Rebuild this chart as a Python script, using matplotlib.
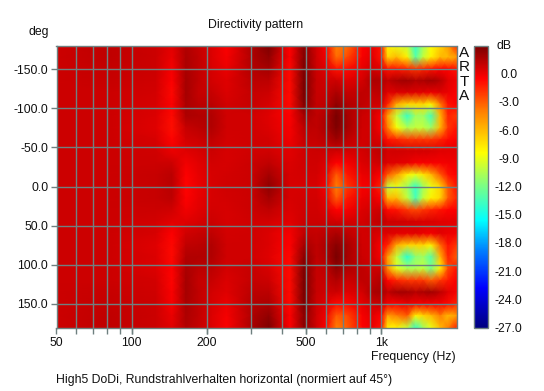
import numpy as np
import matplotlib
matplotlib.use('Agg')
import matplotlib.pyplot as plt
from matplotlib.colors import LinearSegmentedColormap

plt.rcParams['font.family'] = ['Liberation Sans', 'DejaVu Sans']

W = 544.0
H = 391.0
GRID = '#6f8080'

angles = list(range(-180, 181, 15))
x_ticks = [50, 100, 200, 500, 1000]
x_labels = ['50', '100', '200', '500', '1k']
x_grid = [60, 70, 80, 90, 100, 200, 300, 400, 500, 600, 700, 800, 900, 1000]
y_ticks = [-150, -100, -50, 0, 50, 100, 150]
y_labels = ['-150.0', '-100.0', '-50.0', '0.0', '50.0', '100.0', '150.0']
cb_ticks = [0, -3, -6, -9, -12, -15, -18, -21, -24, -27]
cb_labels = ['0.0', '-3.0', '-6.0', '-9.0', '-12.0', '-15.0', '-18.0', '-21.0', '-24.0', '-27.0']

# one list per frequency, angle -180 ... 180 in 15 deg steps
freqs = [50, 80, 125, 145, 165, 185, 210, 240, 300, 355, 430, 490, 550, 600, 660, 730, 840, 920,
         1000, 1060, 1150, 1270, 1370, 1470, 1580, 1720, 1850, 2000]
c50 = [.8, .8, .8, .8, .8, .8, .8, .8, .8, .8, .8, .8, .8, .8, .8, .8, .8, .8, .8, .8, .8, .8, .8, .8, .8]
c80 = [1.1, 1.1, 1, .9, .8, .8, .8, .8, .8, .8, .8, .8, .8, .8, .8, .8, .8, .8, .8, .8, .8, .9, 1, 1.1, 1.1]
c125 = [.8, .8, .8, .7, .6, .5, .4, .3, .5, .7, .8, .9, .9, .9, .8, .6, .5, .3, .4, .4, .6, .7, .8, .8, .8]
c145 = [.2, 0, -.3, -.5, -.7, -.5, -.8, -.9, -.6, 0, .8, 1.3, 1.3, 1.2, .7, .2, -.5, -.7, -.8, -.5, -.6, -.4, -.3, 0, .2]
c165 = [1.5, 1.6, 1.7, 1.8, 1.8, 1.7, 1.6, .9, .6, .3, -.2, -.5, -.6, -.5, -.2, .3, .7, 1.1, 1.5, 1.7, 1.8, 1.8, 1.7, 1.6, 1.5]
c185 = [1, 1.1, 1.1, 1.1, 1, 1.2, 1.5, 1.2, .8, .5, .2, .1, 0, .1, .2, .5, .9, 1.2, 1.5, 1.2, 1, 1.1, 1.1, 1.1, 1]
c210 = [.4, .4, .5, .6, .9, 1.2, 1.5, 1.5, 1.1, .8, .6, .5, .5, .5, .6, .8, 1.1, 1.5, 1.5, 1.2, .9, .6, .5, .4, .4]
c240 = [-.4, -.3, 0, .3, .4, .6, .7, .7, .6, .5, .5, .6, .7, .6, .5, .5, .6, .7, .7, .6, .4, .3, 0, -.3, -.4]
c300 = [1.5, 1.5, 1.4, 1.2, 1, .9, .7, .7, .7, .7, .8, .8, .8, .8, .8, .7, .7, .7, .7, .9, 1, 1.2, 1.4, 1.5, 1.6]
c355 = [2.8, 2.3, 1.8, 1.2, .8, .5, .3, .4, .6, .7, 1.1, 1.8, 2.4, 1.8, 1.1, .6, .4, .4, .3, .5, .8, 1.2, 1.6, 2.3, 2.8]
c430 = [-.5, -.5, -.7, -.8, -.8, -.8, -.5, -.3, -.2, .2, .4, .5, .5, .5, .4, .2, -.3, -.5, -.7, -.8, -.8, -.8, -.7, -.5, -.5]
c490 = [2.5, 2.7, 2.8, 2.9, 2.9, 2.7, 1.8, 1.2, .9, .7, .7, .6, .5, .6, .7, .8, 1.1, 1.8, 2.5, 2.8, 2.9, 2.9, 2.8, 2.5, 2.5]
c550 = [.7, .7, .8, .9, .9, 1, 1.1, 1.1, 1, .8, .7, .6, .5, .6, .7, .8, 1, 1.1, 1.1, 1, .9, .9, .8, .7, .7]
c600 = [-.5, -.2, .3, .7, .9, 1.1, 1.5, 1.6, 1.2, .8, .4, .1, -.3, .1, .4, .8, 1.2, 1.6, 1.5, 1.1, .9, .7, .3, -.2, -.5]
c660 = [-4, -3.5, -1, .8, 1.6, 2.3, 2.9, 2.8, 2, .7, -.5, -3, -4, -3, -.5, .7, 1.6, 2.5, 2.9, 2.3, 1.5, .8, -.8, -3, -4]
c730 = [-3.5, -2.5, -.8, .3, 1, 1.5, 1.8, 1.8, 1.2, .6, -.3, -1.2, -2, -1.2, -.3, .6, 1.2, 1.8, 1.8, 1.5, .8, .3, -.7, -2.5, -3]
c840 = [-.5, -.3, .1, .6, 1.1, 1.1, .8, .7, .6, .6, .4, 0, -.3, 0, .4, .6, .6, .7, .8, 1.1, 1.1, .6, .1, -.3, -.5]
c920 = [0, .2, .7, 1.6, 1.1, .8, .6, .6, .7, .9, .6, .2, -.2, .2, .6, .9, .7, .6, .6, .8, 1.1, 1.6, .7, .2, 0]
c1000 = [-1, -1, .3, 1.5, 1.2, .7, -.4, -.4, .4, 1.2, .8, -.5, -1.5, -.5, .8, 1.2, .4, -.4, -.3, .8, 1.5, 1.8, 1, -.5, -1]
c1060 = [-8, -7, -1, 1.1, .3, -1.5, -5, -4, -1, .6, .4, -3, -10, -6, -.8, .8, .4, -1.5, -5, -4.5, -.6, 1.1, -.3, -5, -8]
c1150 = [-9, -6, -1, 1.7, .4, -5.5, -10, -8.5, -1.5, .7, .3, -5, -9, -6, -1, .8, .2, -5.5, -10, -9, -1.5, 1.8, -.5, -4, -8]
c1270 = [-10, -8, -1.5, 1.9, .4, -7, -14, -10.5, -2, .6, .1, -8, -11, -10, -2, .7, .1, -7, -14.5, -10.5, -2, 1.8, 0, -3, -10]
c1370 = [-14, -13, -2, 1.5, .3, -7, -11, -10, -2, .6, -.3, -9, -14, -13.5, -2.5, .6, .2, -7, -11.5, -10.5, -2, 1.4, -.3, -8, -14]
c1470 = [-11, -10, -1.5, 1.6, .2, -7, -11, -10, -2, .6, -.3, -7.5, -11, -10, -2, .5, 0, -7, -11, -10, -2, 1.7, -.3, -7, -11]
c1580 = [-8.5, -8, -1, 1.9, 0, -8, -13.5, -11, -2, .5, -.3, -6, -9, -8, -1.5, .5, -.2, -8, -13, -12, -3, 1.9, -.3, -6, -9]
c1720 = [-7, -6, -.5, 1.4, .2, -4, -6, -6, -1.5, .3, -.3, -3, -7, -7, -1, .3, .2, -3.5, -6, -8, -2, 1.2, -.3, -4, -6]
c1850 = [-5, -6, -.6, .3, 0, -1, -1.5, -2, -.8, .2, -.2, -1, -3, -3, -.6, .2, 0, -1, -1.5, -2.5, -1.2, .3, -.8, -6, -4]
c2000 = [-1.5, -5, -1, -.2, -.4, -.5, -2, -1, -.5, .2, -.2, -.5, -1, -1.5, -.5, .2, -.2, -2, -3, -1, -.4, -.3, -1.5, -5, -1.5]

columns = [c50, c80, c125, c145, c165, c185, c210, c240, c300, c355, c430, c490, c550, c600, c660, c730, c840, c920,
           c1000, c1060, c1150, c1270, c1370, c1470, c1580, c1720, c1850, c2000]
db = np.column_stack(columns)

# colour scale, -27 dB up to +3 dB
stops = [(-27, '#000080'), (-22.8, '#0000ff'), (-18.8, '#0080ff'), (-15.6, '#00ffff'), (-11.8, '#80ff80'),
         (-8.4, '#ffff00'), (-4, '#ff8000'), (-0.5, '#ff0000'), (3, '#780000')]
cmap = LinearSegmentedColormap.from_list('arta', [((v + 27) / 30.0, c) for v, c in stops], N=512)


def axes_px(x0, y0, x1, y1):
    return fig.add_axes([x0 / W, 1 - y1 / H, (x1 - x0) / W, (y1 - y0) / H])


def label(x, y, s, **kw):
    fig.text(x / W, 1 - y / H, s, fontsize=8.8, color='#101010', va='center', **kw)


fig = plt.figure(figsize=(5.44, 3.91), dpi=100)
ax = axes_px(56.5, 45.5, 456.5, 327.5)
mesh = ax.pcolormesh(freqs, angles, db, cmap=cmap, vmin=-27, vmax=3, shading='gouraud')
ax.set_xscale('log')
ax.set_xlim(50, 2000)
ax.set_ylim(180, -180)
ax.minorticks_off()
ax.xaxis.remove_overlapping_locs = False
ax.set_xticks(x_ticks, x_labels)
ax.set_xticks(x_grid, minor=True)
ax.set_xticklabels([], minor=True)
ax.set_yticks(y_ticks, y_labels)
ax.tick_params(axis='both', which='both', color=GRID, length=4, width=1, labelsize=8.8, pad=2, labelcolor='#101010')
ax.tick_params(axis='x', which='major', pad=3)
ax.grid(True, which='major', axis='y', color=GRID, lw=1)
ax.grid(True, which='minor', axis='x', color=GRID, lw=1)
for s in ax.spines.values():
    s.set_color(GRID)
    s.set_linewidth(1)

cax = axes_px(474, 45.5, 488, 327.5)
cb = fig.colorbar(mesh, cax=cax)
cb.set_ticks(cb_ticks, labels=cb_labels)
cb.ax.tick_params(length=0, labelsize=8.8, pad=15, labelcolor='#101010')
for t in cb.ax.get_yticklabels():
    t.set_ha('center')
cb.outline.set_edgecolor(GRID)
cb.outline.set_linewidth(1)

label(255.5, 25, 'Directivity pattern', ha='center')
label(38.5, 31.5, 'deg', ha='center')
label(504, 46, 'dB', ha='center')
label(456, 357, 'Frequency (Hz)', ha='right')
label(56.5, 380, 'High5 DoDi, Rundstrahlverhalten horizontal (normiert auf 45°)', ha='left')
for i, ch in enumerate('ARTA'):
    fig.text(464.5 / W, 1 - (53 + i * 14.3) / H, ch, fontsize=11, color='#101010', ha='center', va='center')

fig.savefig('out.png', dpi=100)
